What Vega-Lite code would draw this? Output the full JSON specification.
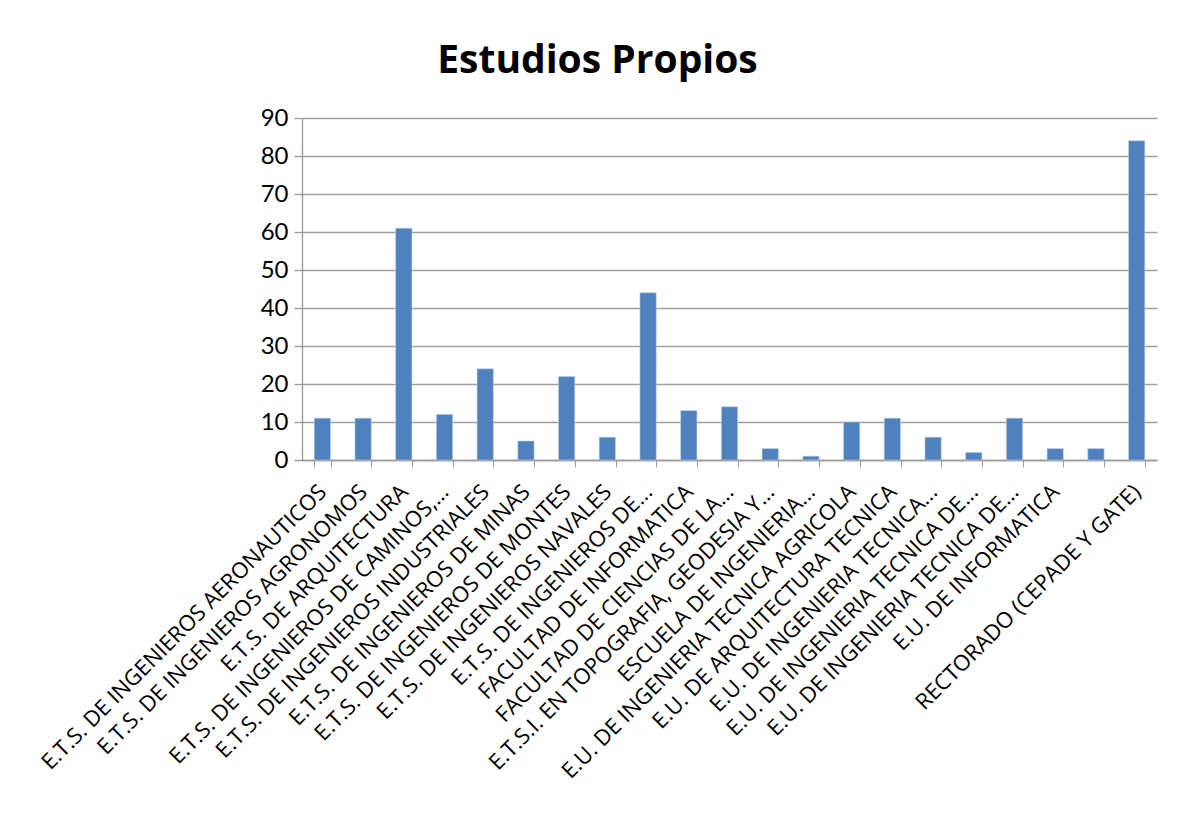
{
  "$schema": "https://vega.github.io/schema/vega-lite/v6.json",
  "width": 855,
  "height": 342,
  "padding": {"left": 37, "top": 42, "right": 24, "bottom": 5},
  "background": "white",
  "title": {"text": "Estudios Propios", "font": "Open Sans", "fontSize": 39, "fontWeight": "bold", "color": "black", "dx": -132, "offset": 25},
  "data": {"values": [
    {"centro": "E.T.S. DE INGENIEROS AERONAUTICOS", "n": 11},
    {"centro": "E.T.S. DE INGENIEROS AGRONOMOS", "n": 11},
    {"centro": "E.T.S. DE ARQUITECTURA", "n": 61},
    {"centro": "E.T.S. DE INGENIEROS DE CAMINOS,...", "n": 12},
    {"centro": "E.T.S. DE INGENIEROS INDUSTRIALES", "n": 24},
    {"centro": "E.T.S. DE INGENIEROS DE MINAS", "n": 5},
    {"centro": "E.T.S. DE INGENIEROS DE MONTES", "n": 22},
    {"centro": "E.T.S. DE INGENIEROS NAVALES", "n": 6},
    {"centro": "E.T.S. DE INGENIEROS DE...", "n": 44},
    {"centro": "FACULTAD DE INFORMATICA", "n": 13},
    {"centro": "FACULTAD DE CIENCIAS DE LA...", "n": 14},
    {"centro": "E.T.S.I. EN TOPOGRAFIA, GEODESIA Y...", "n": 3},
    {"centro": "ESCUELA DE INGENIERIA...", "n": 1},
    {"centro": "E.U. DE INGENIERIA TECNICA AGRICOLA", "n": 10},
    {"centro": "E.U. DE ARQUITECTURA TECNICA", "n": 11},
    {"centro": "E.U. DE INGENIERIA TECNICA...", "n": 6},
    {"centro": "E.U. DE INGENIERIA TECNICA DE... ", "n": 2},
    {"centro": "E.U. DE INGENIERIA TECNICA DE...", "n": 11},
    {"centro": "E.U. DE INFORMATICA", "n": 3},
    {"centro": " ", "n": 3},
    {"centro": "RECTORADO (CEPADE Y GATE)", "n": 84}
  ]},
  "mark": {"type": "bar", "color": "#4F81BD", "stroke": "#BFD0E6", "strokeWidth": 0.6},
  "encoding": {
    "x": {
      "field": "centro", "type": "nominal", "sort": null, "title": null,
      "scale": {"paddingInner": 0.6, "paddingOuter": 0.3},
      "axis": {"labelAngle": -45, "labelAlign": "right", "labelBaseline": "middle", "labelFont": "Open Sans", "labelFontSize": 22, "labelColor": "black", "labelLimit": 0, "labelPadding": 21, "labelOffset": 0, "tickBand": "extent", "tickColor": "#999999", "tickSize": 7, "domainColor": "#999999", "domainWidth": 1.3, "grid": false}
    },
    "y": {
      "field": "n", "type": "quantitative", "title": null,
      "scale": {"domain": [0, 90], "nice": false},
      "axis": {"values": [0,10,20,30,40,50,60,70,80,90], "labelFont": "Lato", "labelFontSize": 24, "labelColor": "black", "labelPadding": 6, "tickColor": "#999999", "tickSize": 8, "tickWidth": 1.3, "domainColor": "#999999", "domainWidth": 1.3, "gridColor": "#a0a0a0", "gridWidth": 1.3}
    }
  },
  "config": {"view": {"stroke": null}}
}
